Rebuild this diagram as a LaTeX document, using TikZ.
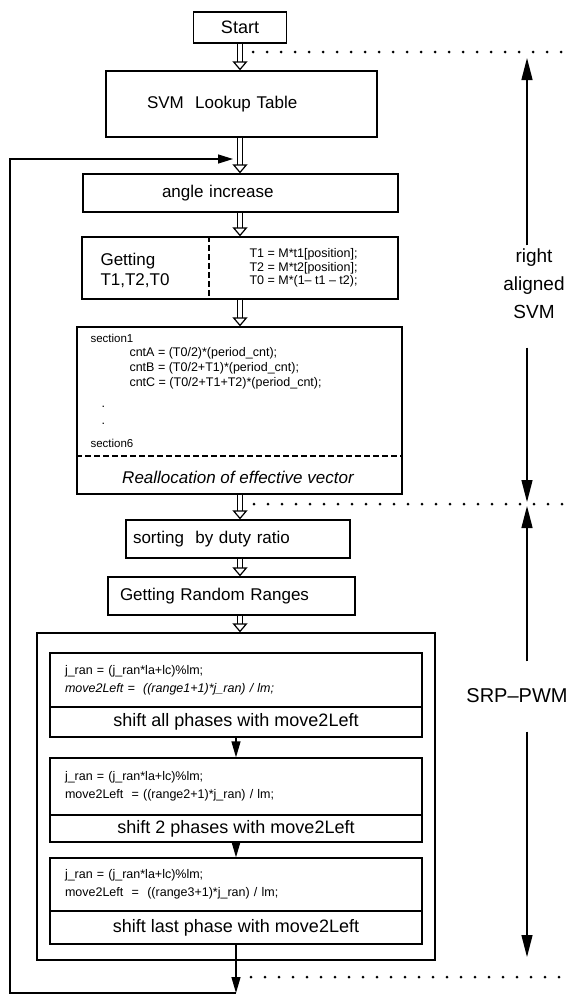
\documentclass[tikz,border=0pt]{standalone}
\usepackage{fontspec}
\setmainfont{Liberation Sans}
\usetikzlibrary{arrows.meta,positioning,calc}

\newcommand\bigtxt{\fontsize{17}{20}\selectfont}
\newcommand\codetxt{\fontsize{12.5}{18}\selectfont}
\newcommand\shifttxt{\fontsize{18}{20}\selectfont}
\newcommand\sidetxt{\fontsize{19}{28}\selectfont}

\tikzset{
  box/.style={draw, line width=1.3pt, inner sep=0pt, minimum height=38pt},
  lbox/.style={box, align=left, font=\bigtxt},
  code/.style={box, inner xsep=15pt, text width=342pt, align=left, font=\codetxt},
  shiftbox/.style={box, minimum width=372pt, font=\shifttxt},
  hol/.style={double, double distance=4.5pt, line width=1.2pt,
    -{Triangle[open, width=15pt, length=9pt, line width=1.2pt]}},
  fil/.style={line width=1.3pt, -{Triangle[width=9pt, length=16pt]}},
  side/.style={line width=1.3pt, -{Triangle[width=11pt, length=22pt]}},
  dots/.style={line width=3pt, line cap=round, dash pattern=on 0pt off 14pt},
  sep/.style={line width=1.3pt, dash pattern=on 6pt off 3pt},
}

\begin{document}
\begin{tikzpicture}[x=1pt, y=-1pt]
  \useasboundingbox (0,0) rectangle (574,996);

  % main column
  \coordinate (col) at (240,0);
  \node[box, minimum width=93pt, minimum height=31pt, font=\fontsize{18}{20}\selectfont] (start) at (240,27.5) {Start};
  \node[lbox, minimum height=66pt, inner xsep=41pt, text width=189pt] (svm) at (241.5,104) {SVM\ \ Lookup Table};
  \node[lbox, inner xsep=79pt, text width=157pt] (ang) at (240.5,193) {angle increase};

  \node[box, minimum width=316pt, minimum height=62pt] (get) at (240,268) {};
  \coordinate (gd) at (209,0);
  \draw[sep] (get.north -| gd) -- (get.south -| gd);
  \node[anchor=west, align=left, font=\bigtxt] (getl) at (97,270) {Getting\\T1,T2,T0};
  \node[anchor=west, align=left, font=\fontsize{12.5}{13.5}\selectfont] (getr) at (246,268)
    {T1 = M*t1[position];\\T2 = M*t2[position];\\T0 = M*(1-- t1 -- t2);};

  \node[box, minimum width=325pt, minimum height=167pt] (sec) at (239.5,410.5) {};
  \coordinate (sd) at (0,456);
  \draw[sep] (sec.west |- sd) -- (sec.east |- sd);
  \node[anchor=west, font=\fontsize{11.5}{12}\selectfont] (s1) at (87,338) {section1};
  \node[anchor=west, font=\fontsize{12.5}{13}\selectfont] (ca) at (126,353) {cntA = (T0/2)*(period\_cnt);};
  \node[anchor=west, font=\fontsize{12.5}{13}\selectfont] (cb) at (126,368) {cntB = (T0/2+T1)*(period\_cnt);};
  \node[anchor=west, font=\fontsize{12.5}{13}\selectfont] (cc) at (126,383) {cntC = (T0/2+T1+T2)*(period\_cnt);};
  \node[anchor=west, font=\fontsize{12.5}{13}\selectfont] (d1) at (98,407) {.};
  \node[anchor=west, font=\fontsize{12.5}{13}\selectfont] (d2) at (98,424) {.};
  \node[anchor=west, font=\fontsize{11.5}{12}\selectfont] (s6) at (87,443) {section6};
  \node[font=\bigtxt\itshape] (realloc) at (238,477) {Reallocation of effective vector};

  \node[lbox, inner xsep=7pt, text width=210pt] (sort) at (238,539) {sorting\ \ by duty ratio};
  \node[lbox, inner xsep=12pt, text width=223pt] (rng) at (231.5,596) {Getting Random Ranges};

  % SRP-PWM block
  \node[box, minimum width=398pt, minimum height=327pt] (srp) at (236,796.5) {};
  \node[code, minimum height=54pt] (b1c) at (236,680)
    {j\_ran = (j\_ran*la+lc)\%lm;\\\textit{move2Left =\ \ ((range1+1)*j\_ran) / lm;}};
  \node[shiftbox, minimum height=30pt] (b1s) at (236,722) {shift all phases with move2Left};
  \node[code, minimum height=57pt] (b2c) at (236,786.5)
    {j\_ran = (j\_ran*la+lc)\%lm;\\move2Left\ \ = ((range2+1)*j\_ran) / lm;};
  \node[shiftbox, minimum height=27pt] (b2s) at (236,828.5) {shift 2 phases with move2Left};
  \node[code, minimum height=53pt] (b3c) at (236,884.5)
    {j\_ran = (j\_ran*la+lc)\%lm;\\move2Left\ \ =\ \ ((range3+1)*j\_ran) / lm;};
  \node[shiftbox, minimum height=33pt] (b3s) at (236,927.5) {shift last phase with move2Left};

  % flow
  \draw[hol] (start.south -| col) -- (svm.north -| col);
  \draw[hol] (svm.south -| col) -- (ang.north -| col);
  \draw[hol] (ang.south -| col) -- (get.north -| col);
  \draw[hol] (get.south -| col) -- (sec.north -| col);
  \draw[hol] (sec.south -| col) -- (sort.north -| col);
  \draw[hol] (sort.south -| col) -- (rng.north -| col);
  \draw[hol] (rng.south -| col) -- (srp.north -| col);
  \draw[fil] (b1s) -- (b2c);
  \draw[fil] (b2s.south) -- (b2s.south |- b3c.north);

  % loop back
  \coordinate (lb) at (236,993);
  \coordinate (ltl) at (10,159);
  \coordinate (ltr) at (233,159);
  \draw[fil] (b3s.south) -- (lb);
  \draw[line width=1.3pt, -{Triangle[width=9pt, length=15pt]}] (lb) -| (ltl) -- (ltr);

  % phase marks on the right
  \draw[dots] (253,52) -- (572,52);
  \draw[dots] (254,504) -- (572,504);
  \draw[dots] (251,977) -- (572,977);
  \coordinate (rc) at (527,0);
  \coordinate (t1) at (527,58);
  \coordinate (m1) at (527,502);
  \coordinate (m2) at (527,506);
  \coordinate (e1) at (527,957);
  \node[align=center, font=\sidetxt] (svmlbl) at (534,284) {right\\aligned\\SVM};
  \node[font=\fontsize{20}{22}\selectfont] (srplbl) at (517,696) {SRP--PWM};
  \draw[side] (svmlbl.north -| rc) -- (t1);
  \draw[side] ($(svmlbl.south -| rc)+(0,25)$) -- (m1);
  \draw[side] ($(srplbl.north -| rc)+(0,-24)$) -- (m2);
  \draw[side] ($(srplbl.south -| rc)+(0,25)$) -- (e1);

\end{tikzpicture}
\end{document}
